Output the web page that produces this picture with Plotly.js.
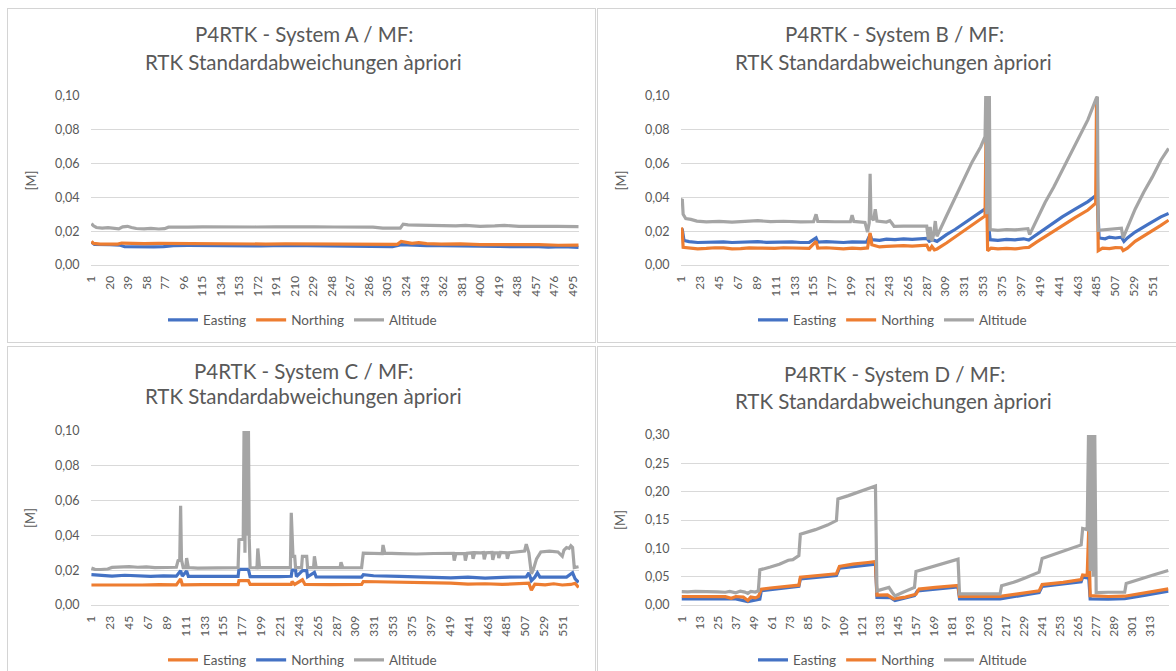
<!DOCTYPE html>
<html>
<head>
<meta charset="utf-8">
<script src="https://cdn.plot.ly/plotly-3.0.1.min.js"></script>
<style>
  html, body { margin:0; padding:0; background:#ffffff; width:1176px; height:671px; overflow:hidden; position:relative; }
  .panel { position:absolute; border:1px solid #d4d4d4; background:#fff; box-sizing:border-box; overflow:hidden; }
</style>
</head>
<body>
<div id="pA" class="panel" style="left:7px;top:8px;width:589px;height:335px;"></div>
<div id="pB" class="panel" style="left:597px;top:8px;width:589px;height:335px;"></div>
<div id="pC" class="panel" style="left:7px;top:346px;width:589px;height:330px;"></div>
<div id="pD" class="panel" style="left:597px;top:346px;width:589px;height:330px;"></div>
<script>
// ---------- Titles & labels ----------
const titleLine1 = ["P4RTK - System A / MF:", "P4RTK - System B / MF:", "P4RTK - System C / MF:", "P4RTK - System D / MF:"];
const titleLine2 = "RTK Standardabweichungen àpriori";
const yAxisLabel = "[M]";
const seriesNames = ["Easting", "Northing", "Altitude"];

// ---------- Tick labels ----------
const ticksA = [1,20,39,58,77,96,115,134,153,172,191,210,229,248,267,286,305,324,343,362,381,400,419,438,457,476,495];
const ticksB = [1,23,45,67,89,111,133,155,177,199,221,243,265,287,309,331,353,375,397,419,441,463,485,507,529,551];
const ticksC = [1,23,45,67,89,111,133,155,177,199,221,243,265,287,309,331,353,375,397,419,441,463,485,507,529,551];
const ticksD = [1,13,25,37,49,61,73,85,97,109,121,133,145,157,169,181,193,205,217,229,241,253,265,277,289,301,313];
const yTicksSmall = [0, 0.02, 0.04, 0.06, 0.08, 0.10];
const yTicksD = [0, 0.05, 0.10, 0.15, 0.20, 0.25, 0.30];
const countA = 501, countB = 569, countC = 569, countD = 325;

// ---------- System A ----------
const aEastX = [1,4,20,30,35,50,65,75,85,100,125,150,175,200,225,250,275,300,310,319,330,345,360,380,400,420,440,455,470,485,501];
const aEastY = [0.0135,0.0122,0.0120,0.0118,0.0108,0.0106,0.0107,0.0109,0.0115,0.0116,0.0114,0.0115,0.0113,0.0116,0.0114,0.0114,0.0113,0.0112,0.0109,0.0120,0.0116,0.0114,0.0115,0.0112,0.0111,0.0110,0.0108,0.0110,0.0106,0.0108,0.0104];
const aNorthX = [1,3,10,20,28,32,40,55,70,85,100,120,140,160,180,200,220,240,260,280,300,315,319,323,330,337,345,360,380,400,420,440,460,480,501];
const aNorthY = [0.0140,0.0128,0.0123,0.0121,0.0124,0.0130,0.0128,0.0127,0.0128,0.0127,0.0126,0.0127,0.0125,0.0126,0.0124,0.0125,0.0124,0.0125,0.0123,0.0124,0.0121,0.0122,0.0140,0.0135,0.0128,0.0132,0.0126,0.0124,0.0125,0.0121,0.0122,0.0119,0.0120,0.0117,0.0118];
const aAltX = [1,3,6,12,18,24,29,33,38,42,47,55,62,70,76,80,90,100,115,130,150,170,190,210,230,250,270,290,300,310,318,321,326,335,350,365,375,385,400,415,425,440,460,480,501];
const aAltY = [0.0245,0.0232,0.0222,0.0218,0.0221,0.0217,0.0214,0.0226,0.0229,0.0222,0.0216,0.0214,0.0217,0.0213,0.0215,0.0224,0.0226,0.0224,0.0226,0.0225,0.0227,0.0225,0.0226,0.0224,0.0226,0.0225,0.0226,0.0224,0.0218,0.0216,0.0218,0.0242,0.0238,0.0236,0.0233,0.0234,0.0231,0.0235,0.0229,0.0231,0.0234,0.0229,0.0230,0.0228,0.0227];

// ---------- System B ----------
const bEastX = [1,2,4,10,20,30,40,50,60,70,80,90,100,110,120,130,140,150,158,160,170,180,190,200,210,217,221,223,232,240,250,260,270,287,290,294,299,310,320,330,340,350,356,357,361,370,380,390,400,406,415,430,445,460,475,484,486,488,495,500,507,514,517,521,530,545,560,569];
const bEastY = [0.0215,0.0210,0.0145,0.0138,0.0133,0.0135,0.0139,0.0137,0.0133,0.0134,0.0138,0.0138,0.0134,0.0135,0.0139,0.0137,0.0133,0.0134,0.0160,0.0136,0.0138,0.0135,0.0133,0.0137,0.0134,0.0136,0.0180,0.0150,0.0146,0.0153,0.0150,0.0155,0.0152,0.0158,0.0140,0.0150,0.0140,0.0180,0.0210,0.0245,0.0280,0.0315,0.0335,0.0330,0.0150,0.0146,0.0152,0.0149,0.0155,0.0148,0.0180,0.0235,0.0285,0.0330,0.0375,0.0410,0.0390,0.0160,0.0155,0.0165,0.0160,0.0165,0.0140,0.0160,0.0195,0.0240,0.0285,0.0305];
const bNorthX = [1,2,3,10,20,30,40,50,60,70,80,90,100,110,120,130,140,150,158,160,170,180,190,200,210,218,221,223,232,240,250,260,270,287,290,293,296,299,310,320,330,340,350,355,356,357,358,362,370,380,390,400,406,415,430,445,460,475,484,485,486,487,492,500,507,514,516,521,530,545,560,569];
const bNorthY = [0.0222,0.0195,0.0105,0.0100,0.0096,0.0098,0.0102,0.0101,0.0096,0.0097,0.0101,0.0100,0.0097,0.0098,0.0102,0.0101,0.0096,0.0099,0.0140,0.0100,0.0102,0.0098,0.0096,0.0100,0.0097,0.0101,0.0190,0.0120,0.0107,0.0110,0.0113,0.0115,0.0112,0.0118,0.0085,0.0110,0.0090,0.0095,0.0130,0.0165,0.0200,0.0235,0.0270,0.0290,0.0740,0.0300,0.0085,0.0100,0.0096,0.0098,0.0095,0.0102,0.0104,0.0135,0.0185,0.0230,0.0280,0.0325,0.0365,0.0980,0.0370,0.0085,0.0100,0.0097,0.0103,0.0102,0.0085,0.0100,0.0140,0.0185,0.0235,0.0265];
const bAltX = [1,2,3,6,12,19,30,45,60,75,90,105,120,140,155,158,160,180,198,200,202,215,218,220,221,222,225,227,229,240,244,246,249,260,275,287,289,291,293,295,297,299,310,320,330,340,350,355,356,357,358,359,360,361,370,380,390,400,405,407,415,425,435,445,455,465,475,485,486,487,495,505,514,516,520,530,540,550,560,569];
const bAltY = [0.0385,0.0390,0.0300,0.0275,0.0270,0.0260,0.0255,0.0258,0.0254,0.0260,0.0262,0.0257,0.0259,0.0255,0.0256,0.0300,0.0258,0.0256,0.0257,0.0295,0.0258,0.0252,0.0195,0.0250,0.0540,0.0280,0.0265,0.0330,0.0260,0.0254,0.0262,0.0250,0.0228,0.0230,0.0228,0.0230,0.0150,0.0225,0.0140,0.0180,0.0260,0.0170,0.0290,0.0400,0.0510,0.0610,0.0700,0.0760,0.1050,0.0300,0.1050,0.0500,0.1050,0.0210,0.0205,0.0210,0.0208,0.0213,0.0215,0.0180,0.0265,0.0370,0.0460,0.0560,0.0660,0.0750,0.0860,0.0990,0.0995,0.0205,0.0210,0.0215,0.0218,0.0160,0.0210,0.0330,0.0430,0.0520,0.0620,0.0690];

// ---------- System C (Easting orange, Northing blue) ----------
const cEastX = [1,20,40,60,80,100,105,107,130,150,172,173,184,186,200,234,235,238,247,250,280,316,318,340,380,420,440,460,480,500,511,514,518,530,540,550,560,565,569];
const cEastY = [0.0115,0.0114,0.0116,0.0115,0.0117,0.0116,0.0150,0.0116,0.0117,0.0116,0.0117,0.0140,0.0140,0.0118,0.0117,0.0118,0.0135,0.0118,0.0145,0.0118,0.0117,0.0118,0.0135,0.0133,0.0132,0.0126,0.0120,0.0122,0.0118,0.0122,0.0125,0.0085,0.0120,0.0116,0.0122,0.0115,0.0118,0.0125,0.0100];
const cNorthX = [1,10,25,40,55,70,85,100,105,107,112,114,130,150,172,173,184,186,200,220,234,235,239,240,247,252,253,261,263,290,316,318,330,360,400,420,440,460,480,508,511,514,518,521,524,540,555,562,565,569];
const cNorthY = [0.0174,0.0170,0.0166,0.0171,0.0168,0.0165,0.0167,0.0166,0.0197,0.0166,0.0195,0.0165,0.0164,0.0163,0.0164,0.0205,0.0205,0.0163,0.0162,0.0163,0.0165,0.0200,0.0200,0.0163,0.0198,0.0198,0.0162,0.0187,0.0162,0.0160,0.0160,0.0174,0.0168,0.0165,0.0161,0.0156,0.0160,0.0155,0.0159,0.0162,0.0185,0.0140,0.0160,0.0185,0.0160,0.0158,0.0160,0.0185,0.0150,0.0130];
const cAltX = [1,5,12,20,25,35,45,55,65,75,85,100,102,104,105,106,108,111,112,114,125,140,155,170,172,173,178,179,180,181,182,183,184,185,186,194,195,197,210,225,233,234,236,238,239,246,247,252,253,260,261,263,280,291,292,294,305,316,318,330,340,341,343,360,380,400,415,423,424,426,436,437,439,445,446,448,455,458,459,461,468,469,471,475,476,478,485,486,488,490,500,506,508,511,514,516,520,525,535,545,550,552,555,558,560,562,564,569];
const cAltY = [0.0212,0.0205,0.0204,0.0207,0.0216,0.0218,0.0220,0.0217,0.0219,0.0215,0.0216,0.0217,0.0255,0.0260,0.0570,0.0260,0.0215,0.0215,0.0270,0.0215,0.0212,0.0214,0.0213,0.0214,0.0215,0.0375,0.0380,0.1050,0.0300,0.1050,0.0400,0.1050,0.1050,0.0380,0.0215,0.0214,0.0325,0.0215,0.0214,0.0213,0.0215,0.0530,0.0280,0.0280,0.0215,0.0215,0.0280,0.0280,0.0215,0.0215,0.0280,0.0215,0.0213,0.0215,0.0245,0.0215,0.0214,0.0215,0.0298,0.0295,0.0296,0.0345,0.0298,0.0295,0.0293,0.0296,0.0294,0.0297,0.0255,0.0295,0.0297,0.0255,0.0298,0.0300,0.0265,0.0301,0.0300,0.0302,0.0262,0.0300,0.0302,0.0260,0.0300,0.0301,0.0270,0.0302,0.0300,0.0265,0.0301,0.0302,0.0305,0.0310,0.0350,0.0300,0.0180,0.0200,0.0265,0.0305,0.0310,0.0305,0.0280,0.0315,0.0330,0.0325,0.0340,0.0330,0.0215,0.0220];

// ---------- System D ----------
const dEastX = [1,10,20,30,37,45,50,53,54,65,79,80,92,104,106,118,130,131,140,143,156,158,172,185,186,200,213,239,241,255,267,268,271,272,273,285,296,310,325];
const dEastY = [0.0106,0.0105,0.0108,0.0104,0.0108,0.0060,0.0095,0.0105,0.0250,0.0280,0.0330,0.0460,0.0490,0.0520,0.0650,0.0690,0.0720,0.0135,0.0130,0.0080,0.0165,0.0250,0.0285,0.0320,0.0106,0.0105,0.0108,0.0220,0.0330,0.0370,0.0410,0.0490,0.0480,0.0500,0.0106,0.0105,0.0110,0.0175,0.0245];
const dNorthX = [1,10,20,30,34,37,42,45,47,50,52,54,60,70,79,80,90,104,106,115,125,130,131,138,142,150,157,159,170,185,186,200,213,225,239,241,255,267,268,271,272,273,285,296,310,325];
const dNorthY = [0.0150,0.0148,0.0152,0.0148,0.0120,0.0150,0.0140,0.0080,0.0140,0.0125,0.0150,0.0280,0.0300,0.0320,0.0350,0.0490,0.0510,0.0550,0.0680,0.0720,0.0750,0.0765,0.0176,0.0180,0.0110,0.0140,0.0190,0.0280,0.0310,0.0345,0.0150,0.0150,0.0152,0.0195,0.0250,0.0360,0.0400,0.0450,0.0530,0.0520,0.1310,0.0165,0.0150,0.0155,0.0220,0.0285];
const dAltX = [1,5,10,15,20,25,30,33,37,40,43,45,47,50,52,53,60,66,72,75,79,80,90,98,104,105,112,120,130,131,135,139,141,143,148,152,156,157,165,175,185,186,195,205,213,214,222,230,239,241,250,260,267,268,271,272,273,274,275,276,277,285,296,297,305,315,325];
const dAltY = [0.0235,0.0230,0.0240,0.0232,0.0238,0.0230,0.0225,0.0240,0.0215,0.0245,0.0228,0.0205,0.0240,0.0228,0.0250,0.0620,0.0670,0.0720,0.0790,0.0800,0.0870,0.1250,0.1330,0.1410,0.1490,0.1870,0.1930,0.2000,0.2100,0.0250,0.0280,0.0310,0.0230,0.0160,0.0220,0.0270,0.0310,0.0590,0.0650,0.0730,0.0810,0.0195,0.0193,0.0195,0.0195,0.0340,0.0400,0.0480,0.0580,0.0820,0.0900,0.0990,0.1060,0.1350,0.1330,0.3200,0.0600,0.3200,0.0500,0.3200,0.0220,0.0225,0.0225,0.0380,0.0450,0.0530,0.0610];

// ---------- Styling ----------
const BLUE = '#4472C4', ORANGE = '#ED7D31', GRAY = '#A5A5A5', TXT = '#595959', GRID = '#d9d9d9';
const FONT = 'Lato, "Open Sans", sans-serif';

function makePanel(id, idx, series, ticks, count, yTicks, yMax, h, mt, mb, t1, t2) {
  const plotW = 488;
  const traces = series.map(s => ({
    type: 'scatter', mode: 'lines', x: s.x, y: s.y, name: s.name,
    line: { color: s.color, width: 3.2 }, hoverinfo: 'skip'
  }));
  const plotH = h - mt - mb;
  const layout = {
    width: 589, height: h,
    margin: { l: 83, r: 18, t: mt, b: mb, pad: 0 },
    paper_bgcolor: '#ffffff', plot_bgcolor: '#ffffff',
    separators: ',.',
    font: { family: FONT, color: TXT, size: 12 },
    showlegend: true,
    legend: {
      orientation: 'h', xref: 'container', yref: 'container',
      x: 0.5, xanchor: 'center', y: 1 - (mt + plotH + 55) / h, yanchor: 'middle',
      font: { family: FONT, size: 13.5, color: TXT }, itemwidth: 30, traceorder: 'normal'
    },
    xaxis: {
      range: [0.5, count + 0.5], tickmode: 'array', tickvals: ticks, ticktext: ticks.map(String),
      tickangle: -90, showgrid: false, zeroline: false, showline: true, linecolor: GRID, linewidth: 1,
      ticks: 'outside', ticklen: 5, tickcolor: 'rgba(0,0,0,0)',
      tickfont: { family: FONT, size: 12, color: TXT }, fixedrange: true
    },
    yaxis: {
      range: [0, yMax], tickmode: 'array', tickvals: yTicks, tickformat: '.2f',
      showgrid: true, gridcolor: GRID, gridwidth: 1, zeroline: false, showline: false,
      ticks: 'outside', ticklen: 8, tickcolor: 'rgba(0,0,0,0)',
      tickfont: { family: FONT, size: 12.5, color: TXT }, fixedrange: true
    },
    annotations: [
      { text: titleLine1[idx], xref: 'paper', yref: 'paper', x: (296 - 83) / plotW, y: 1 + (mt - t1) / plotH,
        xanchor: 'center', yanchor: 'middle', showarrow: false, font: { family: FONT, size: 20.5, color: TXT } },
      { text: titleLine2, xref: 'paper', yref: 'paper', x: (295 - 83) / plotW, y: 1 + (mt - t2) / plotH,
        xanchor: 'center', yanchor: 'middle', showarrow: false, font: { family: FONT, size: 20.5, color: TXT } },
      { text: yAxisLabel, xref: 'paper', yref: 'paper', x: (22 - 83) / plotW, y: 0.5, textangle: -90,
        xanchor: 'center', yanchor: 'middle', showarrow: false, font: { family: FONT, size: 13, color: TXT } }
    ]
  };
  Plotly.newPlot(id, traces, layout, { staticPlot: true, displayModeBar: false });
}

makePanel('pA', 0, [
  { x: aEastX, y: aEastY, name: seriesNames[0], color: BLUE },
  { x: aNorthX, y: aNorthY, name: seriesNames[1], color: ORANGE },
  { x: aAltX, y: aAltY, name: seriesNames[2], color: GRAY }
], ticksA, countA, yTicksSmall, 0.10, 335, 87, 79, 25, 53);

makePanel('pB', 1, [
  { x: bEastX, y: bEastY, name: seriesNames[0], color: BLUE },
  { x: bNorthX, y: bNorthY, name: seriesNames[1], color: ORANGE },
  { x: bAltX, y: bAltY, name: seriesNames[2], color: GRAY }
], ticksB, countB, yTicksSmall, 0.10, 335, 87, 79, 25, 53);

makePanel('pC', 2, [
  { x: cEastX, y: cEastY, name: seriesNames[0], color: ORANGE },
  { x: cNorthX, y: cNorthY, name: seriesNames[1], color: BLUE },
  { x: cAltX, y: cAltY, name: seriesNames[2], color: GRAY }
], ticksC, countC, yTicksSmall, 0.10, 330, 84, 72, 24, 49);

makePanel('pD', 3, [
  { x: dEastX, y: dEastY, name: seriesNames[0], color: BLUE },
  { x: dNorthX, y: dNorthY, name: seriesNames[1], color: ORANGE },
  { x: dAltX, y: dAltY, name: seriesNames[2], color: GRAY }
], ticksD, countD, yTicksD, 0.30, 330, 88, 72, 27, 54);
</script>
</body>
</html>
